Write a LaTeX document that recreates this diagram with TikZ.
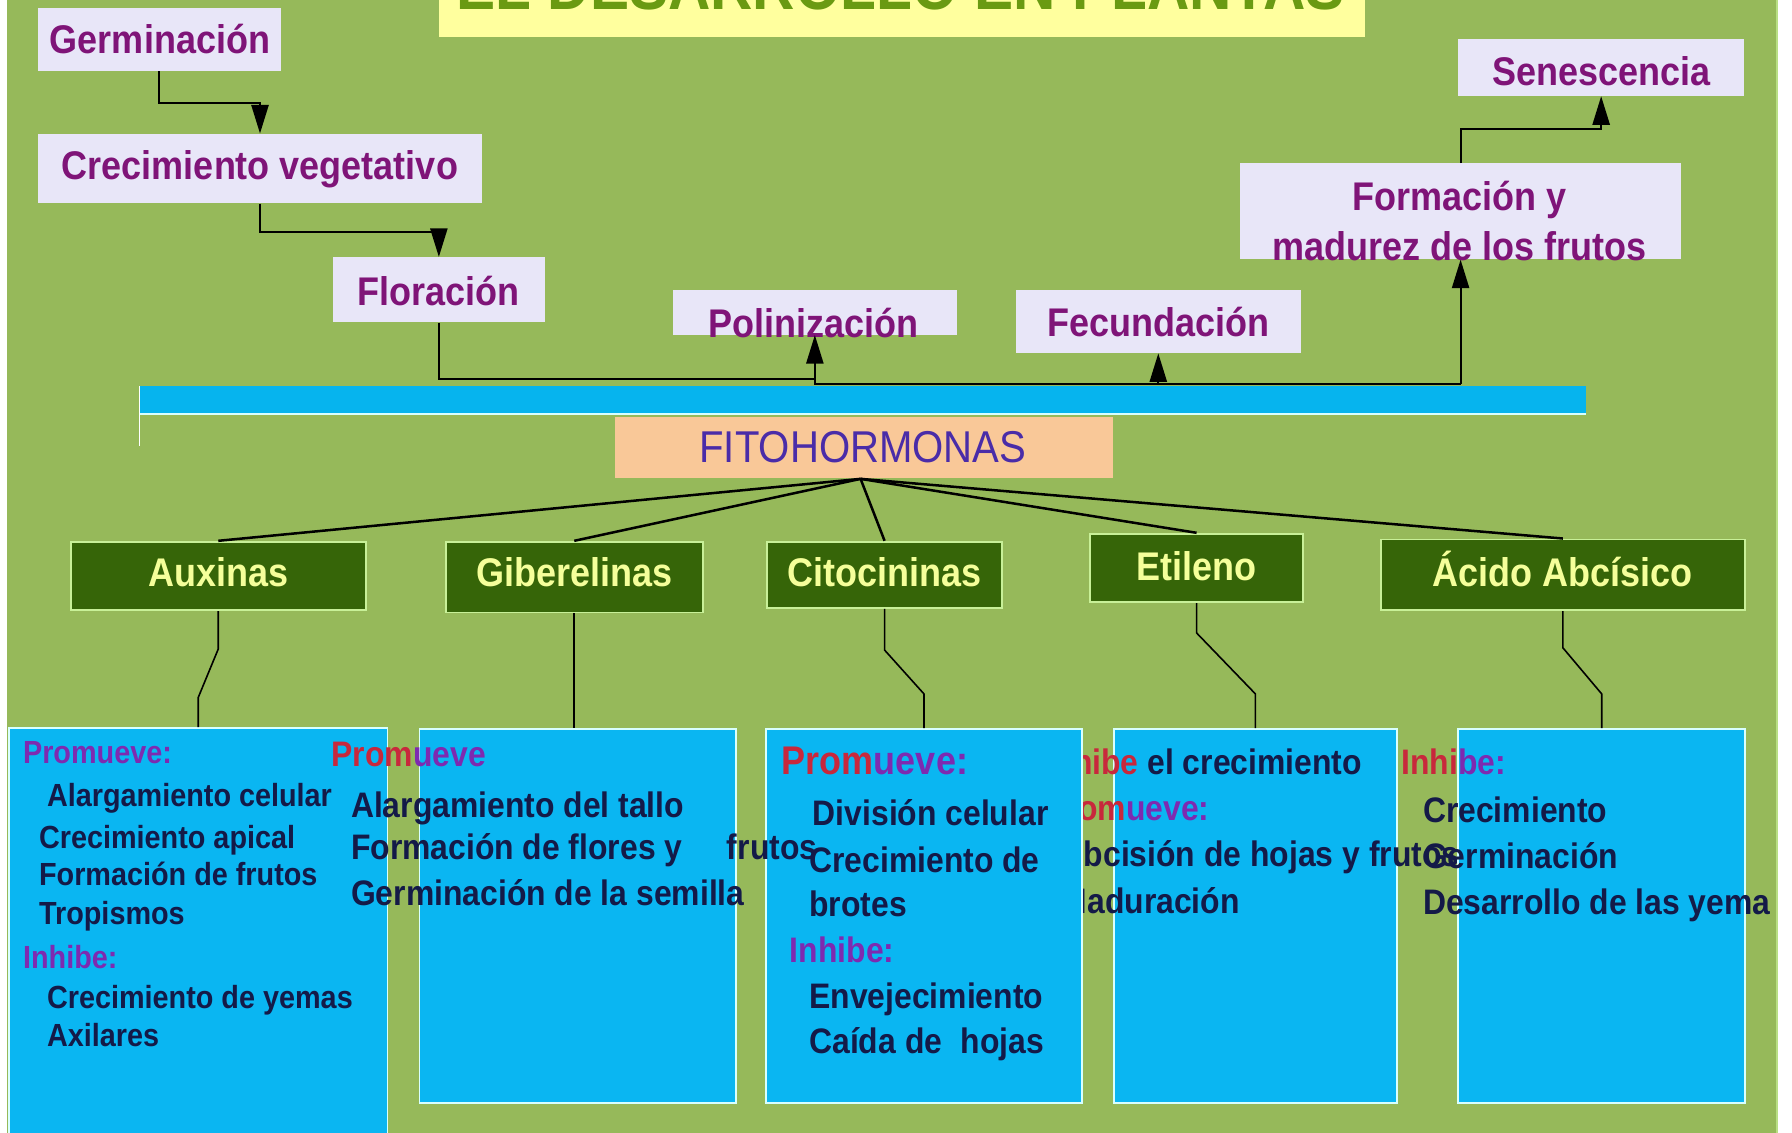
\documentclass[tikz,border=0pt]{standalone}
\usepackage{fontspec}
\setmainfont{Liberation Sans}[FakeStretch=0.9]
\usetikzlibrary{arrows.meta,calc}
\definecolor{slidegreen}{HTML}{96B95A}
\definecolor{titleyel}{HTML}{FFFF9E}
\definecolor{titlegrn}{HTML}{6A9A12}
\definecolor{lav}{HTML}{E8E6F8}
\definecolor{purp}{HTML}{7F1478}
\definecolor{barblue}{HTML}{06B4EE}
\definecolor{peach}{HTML}{F9C898}
\definecolor{fitoblue}{HTML}{4A2CA8}
\definecolor{dgreen}{HTML}{366508}
\definecolor{lgborder}{HTML}{C8F098}
\definecolor{ytxt}{HTML}{F5FF9A}
\definecolor{bblue}{HTML}{0AB6F2}
\definecolor{bborder}{HTML}{D8FFFF}
\definecolor{navytxt}{HTML}{141A48}
\definecolor{lblred}{HTML}{C8283C}
\definecolor{lblpurple}{HTML}{7E2AB0}
\begin{document}
\begin{tikzpicture}[x=1pt,y=-1pt,
  lavbox/.style={fill=lav, inner sep=0pt, draw=none},
  lavtxt/.style={text=purp, font=\bfseries\fontsize{35}{40}\selectfont, inner sep=0pt, anchor=base},
  gbox/.style={fill=dgreen, draw=lgborder, line width=1.6pt, inner sep=0pt},
  gtxt/.style={text=ytxt, font=\bfseries\fontsize{35}{40}\selectfont, inner sep=0pt, anchor=base},
  bbox/.style={fill=bblue, draw=bborder, line width=1.6pt, inner sep=0pt},
  btxt/.style={text=navytxt, font=\bfseries\fontsize{31}{36}\selectfont, inner sep=0pt, anchor=base west},
  stxt/.style={text=navytxt, font=\bfseries\fontsize{28}{32}\selectfont, inner sep=0pt, anchor=base west},
  arr/.style={line width=1.8pt, -{Triangle[length=25pt,width=15pt]}},
  conn/.style={line width=1.8pt},
  fan/.style={line width=2.2pt},
  drop/.style={line width=1.4pt},
]
\useasboundingbox (0,0) rectangle (1568,991);
\fill[white] (0,0) rectangle (1568,991);
\begin{scope}
\clip (6,0) rectangle (1556,991);
\fill[slidegreen] (6,0) rectangle (1556,991);
\draw[line width=2pt, color=lgborder!70!slidegreen] (1555,0) -- (1555,991);

% title
\node[fill=titleyel, inner sep=0pt, minimum width=810pt, minimum height=40pt] (titlebox) at (789,12.5) {};
\node[text=titlegrn, font=\bfseries\fontsize{57}{60}\selectfont, inner sep=0pt, anchor=base] (titletxt) at (788,8) {EL DESARROLLO EN PLANTAS};

% top sequence
\node[lavbox, minimum width=213pt, minimum height=55pt] (germ) at (139.5,34.5) {};
\node[lavtxt] (germt) at (140,47) {Germinación};
\node[lavbox, minimum width=389pt, minimum height=61pt] (creci) at (227.5,147.5) {};
\node[lavtxt] (crecit) at (227.5,157) {Crecimiento vegetativo};
\node[lavbox, minimum width=186pt, minimum height=57pt] (flor) at (384,253.5) {};
\node[lavtxt] (flort) at (384,267) {Floración};
\node[lavbox, minimum width=248pt, minimum height=39pt] (polin) at (713,273.5) {};
\node[lavtxt] (polint) at (712,295) {Polinización};
\node[lavbox, minimum width=249pt, minimum height=55pt] (fecun) at (1013.5,281.5) {};
\node[lavtxt] (fecunt) at (1014,294) {Fecundación};
\node[lavbox, minimum width=386pt, minimum height=84pt] (form) at (1278,185) {};
\node[lavtxt] (formt1) at (1277,184) {Formación y};
\node[lavtxt] (formt2) at (1277,227.5) {madurez de los frutos};
\node[lavbox, minimum width=250pt, minimum height=50pt] (senes) at (1401,59) {};
\node[lavtxt] (senest) at (1401,74.5) {Senescencia};

% arrows of the sequence
\draw[arr] (germ.south) -- ++(0,28) -| (creci.north);
\draw[arr] (creci.south) -- ++(0,25) -| (flor.north);
\coordinate (jA) at (713,332);
\coordinate (jB) at (713,336);
\coordinate (jE) at (1278,336);
\draw[conn] (flor.south) |- (jA) -- (jB) -- (jE);
\draw[arr] (jB) -- (polin.south);
\draw[arr] (fecun.south |- jB) -- (fecun.south);
\draw[arr] (jE) -- (form.south);
\draw[arr] (form.north) -- ++(0,-30) -| (senes.south);

% bar and fitohormonas
\fill[barblue] (122,338) rectangle (1388,361.5);
\draw[line width=1.5pt, bborder] (122,362.5) -- (1388,362.5);
\draw[line width=1.5pt, white] (122,338) -- (122,390);
\node[fill=peach, inner sep=0pt, minimum width=436pt, minimum height=53.5pt] (fito) at (756,391.75) {};
\node[text=fitoblue, font=\fontsize{39}{44}\selectfont, inner sep=0pt, anchor=base] (fitot) at (755,405) {FITOHORMONAS};
\coordinate (fh) at (753,419);

% hormone boxes
\node[gbox, minimum width=258pt, minimum height=60pt] (aux) at (191,504) {};
\node[gtxt] (auxt) at (191,513.5) {Auxinas};
\node[gbox, minimum width=225pt, minimum height=62pt] (gib) at (502.5,505) {};
\node[gtxt] (gibt) at (502.5,513.5) {Giberelinas};
\node[gbox, minimum width=206pt, minimum height=58pt] (cito) at (774,503) {};
\node[gtxt] (citot) at (774,513) {Citocininas};
\node[gbox, minimum width=186pt, minimum height=60pt] (etil) at (1047,497) {};
\node[gtxt] (etilt) at (1047,507.5) {Etileno};
\node[gbox, minimum width=319pt, minimum height=62pt] (acid) at (1367.5,503) {};
\node[gtxt] (acidt) at (1367.5,513.5) {Ácido Abcísico};

\draw[fan] (fh) -- (aux.north);
\draw[fan] (fh) -- (gib.north);
\draw[fan] (fh) -- (cito.north);
\draw[fan] (fh) -- (etil.north);
\draw[fan] (fh) -- (acid.north);

% blue boxes (drawing order reproduces the overlaps)
\node[bbox, minimum width=331pt, minimum height=363pt] (b1) at (173.5,818.5) {};
\node[bbox, minimum width=247pt, minimum height=327pt] (b4) at (1098.5,801.5) {};
\node[btxt, text=lblred] (b4a) at (914,678) {Inhibe \textcolor{navytxt}{el crecimiento}};
\node[btxt, text=lblred] (b4b) at (914,718) {Prom\textcolor{lblpurple}{ueve:}};
\node[btxt] (b4c) at (928,758) {Abcisión de hojas y frutos};
\node[btxt] (b4d) at (928,799) {Maduración};
\node[bbox, minimum width=277pt, minimum height=327pt] (b3) at (808.5,801.5) {};
\node[bbox, minimum width=277pt, minimum height=327pt] (b2) at (505.5,801.5) {};

\node[stxt, text=lblpurple] (b1a) at (20,668) {Promueve:};
\node[stxt] (b1b) at (41,706) {Alargamiento celular};
\node[stxt] (b1c) at (34,742) {Crecimiento apical};
\node[stxt] (b1d) at (34,775) {Formación de frutos};
\node[stxt] (b1e) at (34,809) {Tropismos};
\node[stxt, text=lblpurple] (b1f) at (20,847) {Inhibe:};
\node[stxt] (b1g) at (41,882) {Crecimiento de yemas};
\node[stxt] (b1h) at (41,916) {Axilares};

\node[btxt, text=lblred] (b2a) at (290,671) {Prom\textcolor{lblpurple}{ueve}};
\node[btxt] (b2b) at (307,715) {Alargamiento del tallo};
\node[btxt] (b2c) at (307,752) {Formación de flores y\hspace{39pt}frutos};
\node[btxt] (b2d) at (307,792) {Germinación de la semilla};

\node[btxt, text=lblred, font=\bfseries\fontsize{35}{40}\selectfont] (b3a) at (684,678) {Prom\textcolor{lblpurple}{ueve:}};
\node[btxt] (b3b) at (711,722) {División celular};
\node[btxt] (b3c) at (708,763) {Crecimiento de};
\node[btxt] (b3d) at (708,802) {brotes};
\node[btxt, text=lblpurple] (b3e) at (691,842) {Inhibe:};
\node[btxt] (b3f) at (708,882) {Envejecimiento};
\node[btxt] (b3g) at (708,922) {Caída de\hspace{16pt}hojas};

\node[bbox, minimum width=251pt, minimum height=327pt] (b5) at (1401.5,801.5) {};
\node[btxt, text=lblred] (b5a) at (1226,678) {Inhi\textcolor{lblpurple}{be:}};
\node[btxt] (b5b) at (1245,720) {Crecimiento};
\node[btxt] (b5c) at (1245,760) {Germinación};
\node[btxt] (b5d) at (1245,800) {Desarrollo de las yema};

% drops from hormone boxes to blue boxes
\draw[drop] (aux.south) -- ++(0,33) -- ($(b1.north)+(0,-26)$) -- (b1.north);
\draw[drop] (gib.south) -- (gib.south |- b2.north);
\draw[drop] (cito.south) -- ++(0,36) -- ($(b3.north)+(0,-30)$) -- (b3.north);
\draw[drop] (etil.south) -- ++(0,26) -- ($(b4.north)+(0,-30)$) -- (b4.north);
\draw[drop] (acid.south) -- ++(0,32) -- ($(b5.north)+(0,-30)$) -- (b5.north);
\end{scope}
\end{tikzpicture}
\end{document}
